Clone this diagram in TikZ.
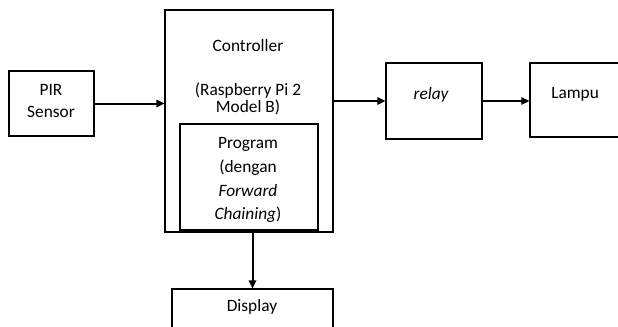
\documentclass[tikz,border=0pt]{standalone}
\usepackage{fontspec}
\setmainfont{Carlito}
\usetikzlibrary{arrows.meta}
\usetikzlibrary{fit}

\begin{document}
\begin{tikzpicture}
[x=0.75pt,y=-0.75pt,%
  box/.style={draw,line width=0.8pt,rectangle,inner sep=0pt},%
  lbl/.style={inner sep=0pt,anchor=base},%
  link/.style={-{Triangle[length=6pt,width=5.5pt]},line width=1.5pt},%
  thinlink/.style={-{Triangle[length=6pt,width=5.5pt]},line width=0.8pt}]
\fontsize{13}{15}\selectfont
\useasboundingbox (0,0) rectangle (618,326);
\clip (0,0) rectangle (618,326);
% blocks
\node[box,fit={(9,71) (94,136)}] (pir) {};
\node[box,fit={(165,10) (333,232)}] (ctrl) {};
\node[box,fit={(180,124) (318,230)}] (prog) {};
\node[box,fit={(386,63) (482,139)}] (relay) {};
\node[box,fit={(530,63) (640,137)}] (lampu) {};
\node[box,fit={(172,289) (333,345)}] (disp) {};
% texts
\node[lbl] (pirA) at (51,95) {PIR};
\node[lbl] (pirB) at (51,117) {Sensor};
\node[lbl] (ctrlA) at (248,51) {Controller};
\node[lbl] (ctrlB) at (248,95) {(Raspberry Pi 2};
\node[lbl] (ctrlC) at (248,112) {Model B)};
\node[lbl] (progA) at (248,148) {Program};
\node[lbl] (progB) at (248,172) {(dengan};
\node[lbl] (progC) at (248,196) {\itshape Forward};
\node[lbl] (progD) at (248,219) {{\itshape Chaining})};
\node[lbl] (relayT) at (431,99) {\itshape relay};
\node[lbl,anchor=base west] (lampuT) at (551,98) {Lampu};
\node[lbl] (dispT) at (252,311) {Display};
% connectors
\draw[link] (pir.east) -- (pir.east -| ctrl.west);
\draw[link] (ctrl.east |- relay.west) -- (relay.west);
\draw[thinlink] (relay.east) -- (relay.east -| lampu.west);
\draw[link] (ctrl.south -| disp.north) -- (disp.north);
\end{tikzpicture}
\end{document}
